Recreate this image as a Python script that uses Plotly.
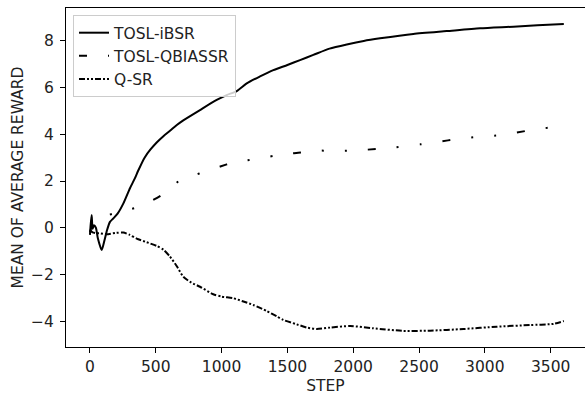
import plotly.graph_objects as go

# TOSL-iBSR
ibsr_step = [0, 5, 13, 20, 30, 45, 60, 89, 110, 130, 152, 178, 210, 254, 304, 340, 367, 415, 460, 507, 560, 608,
             660, 709, 836, 963, 1039, 1115, 1191, 1292, 1393, 1500, 1596, 1697, 1820, 1951, 2080, 2204, 2457,
             2710, 2964, 3217, 3400, 3600]
ibsr_val = [-0.31, 0.1, 0.54, -0.05, 0.1, 0.0, -0.45, -0.96, -0.55, -0.1, 0.25, 0.40, 0.6, 1.04, 1.69, 2.1, 2.45,
            3.0, 3.35, 3.65, 3.93, 4.15, 4.4, 4.6, 5.04, 5.47, 5.68, 5.85, 6.18, 6.48, 6.75, 6.97, 7.18, 7.4, 7.67,
            7.85, 8.0, 8.11, 8.3, 8.42, 8.54, 8.61, 8.67, 8.72]

# TOSL-QBIASSR
qb_step = [0, 15, 30, 63, 120, 200, 280, 360, 450, 540, 610, 690, 780, 880, 990, 1090, 1180, 1280, 1400, 1500,
           1600, 1700, 1900, 2100, 2320, 2510, 2720, 2930, 3130, 3340, 3550, 3600]
qb_val = [-0.2, 0.1, 0.25, 0.37, 0.5, 0.65, 0.76, 0.87, 1.1, 1.38, 1.7, 2.05, 2.22, 2.42, 2.62, 2.8, 2.88, 2.95,
          3.08, 3.16, 3.22, 3.3, 3.29, 3.34, 3.44, 3.57, 3.74, 3.88, 3.97, 4.17, 4.33, 4.36]

# Q-SR
qsr_step = [0, 20, 51, 76, 127, 200, 253, 300, 355, 430, 507, 560, 608, 660, 709, 770, 836, 937, 1000, 1089, 1160,
            1241, 1343, 1420, 1469, 1571, 1650, 1723, 1824, 1976, 2153, 2381, 2584, 2837, 3090, 3343, 3521, 3600]
qsr_val = [-0.1, -0.2, -0.24, -0.24, -0.28, -0.22, -0.21, -0.3, -0.47, -0.62, -0.78, -0.95, -1.24, -1.65, -2.1,
           -2.35, -2.53, -2.85, -2.95, -3.02, -3.15, -3.31, -3.57, -3.8, -3.95, -4.14, -4.28, -4.34, -4.28, -4.21,
           -4.31, -4.42, -4.41, -4.34, -4.24, -4.17, -4.12, -4.0]

x_ticks = [0, 500, 1000, 1500, 2000, 2500, 3000, 3500]
y_ticks = [-4, -2, 0, 2, 4, 6, 8]

FS = 15.5

fig = go.Figure()
fig.add_trace(go.Scatter(x=ibsr_step, y=ibsr_val, mode="lines", name="TOSL-iBSR",
                         line=dict(color="black", width=2, shape="spline", smoothing=0.6)))
fig.add_trace(go.Scatter(x=qb_step, y=qb_val, mode="lines", name="TOSL-QBIASSR",
                         line=dict(color="black", width=2, shape="spline", smoothing=0.6,
                                   dash="8px,21px,2px,21px,2px,21px")))
fig.add_trace(go.Scatter(x=qsr_step, y=qsr_val, mode="lines", name="Q-SR",
                         line=dict(color="black", width=2, shape="spline", smoothing=0.6,
                                   dash="6px,2px,2px,2px,2px,2px")))

axis_common = dict(showline=True, mirror=True, linecolor="black", linewidth=1, showgrid=False, zeroline=False,
                   ticks="outside", ticklen=5, tickcolor="black", tickfont=dict(size=FS, color="#222"))

fig.update_layout(
    width=585, height=395,
    margin=dict(l=66, r=0, t=8, b=48),
    paper_bgcolor="white", plot_bgcolor="white",
    font=dict(family="DejaVu Sans", size=FS, color="#222"),
    xaxis=dict(range=[-182, 3761], tickvals=x_ticks,
               title=dict(text="STEP", font=dict(size=FS), standoff=5), **axis_common),
    yaxis=dict(range=[-5.11, 9.41], tickvals=y_ticks, tickformat="d",
               title=dict(text="MEAN OF AVERAGE REWARD", font=dict(size=FS), standoff=3), **axis_common),
    legend=dict(x=0.0135, y=0.979, xanchor="left", yanchor="top", bgcolor="rgba(255,255,255,0.8)",
                bordercolor="#cccccc", borderwidth=1, font=dict(size=FS)),
    showlegend=True,
)
fig.update_yaxes(ticklabelstandoff=3)
fig.update_xaxes(ticklabelstandoff=0)

fig.write_html("out.html")
